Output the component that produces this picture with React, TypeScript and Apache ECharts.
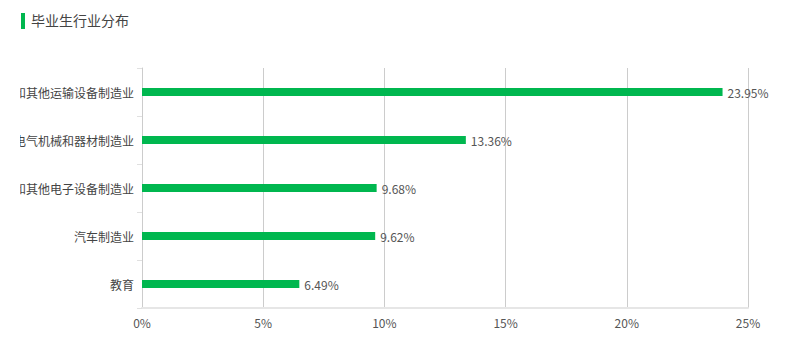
import React, { useEffect, useRef } from "react";
import * as echarts from "echarts";

const categories = [
  "教育",
  "汽车制造业",
  "计算机、通信和其他电子设备制造业",
  "电气机械和器材制造业",
  "铁路、船舶、航空航天和其他运输设备制造业",
];
const values = [6.49, 9.62, 9.68, 13.36, 23.95];
const titleText = "毕业生行业分布";

export default function App() {
  const ref = useRef<HTMLDivElement>(null);
  useEffect(() => {
    document.body.style.margin = "0";
    const chart = echarts.init(ref.current!, undefined, { renderer: "svg" });
    chart.setOption({
      animation: false,
      textStyle: { fontFamily: "'Noto Sans CJK SC', sans-serif" },
      graphic: [
        { type: "rect", left: 1, top: 13, shape: { width: 4, height: 16 }, style: { fill: "#00b74f" } },
        {
          type: "text",
          left: 11,
          top: 13,
          style: { text: titleText, fontSize: 14, fill: "#444", fontFamily: "'Noto Sans CJK SC', sans-serif" },
        },
      ],
      grid: { left: 122, right: 51, top: 68, bottom: 44, containLabel: false, outerBoundsMode: "none" },
      xAxis: {
        type: "value",
        min: 0,
        max: 25,
        interval: 5,
        axisLabel: { formatter: "{value}%", color: "#555", fontSize: 12, margin: 8 },
        axisLine: { show: true, lineStyle: { color: "#e6e6e6", width: 2 } },
        axisTick: { show: false },
        splitLine: { show: true, lineStyle: { color: "#cccccc", width: 1 } },
      },
      yAxis: {
        type: "category",
        data: categories,
        axisLabel: { color: "#444", fontSize: 12, margin: 8 },
        axisLine: { show: true, lineStyle: { color: "#cccccc" } },
        axisTick: { show: true, length: 5, lineStyle: { color: "#e0e0e0" } },
      },
      series: [
        {
          type: "bar",
          data: values,
          barWidth: 8,
          itemStyle: { color: "#00b74f" },
          label: {
            show: true,
            position: "right",
            distance: 5,
            formatter: "{c}%",
            color: "#555",
            fontSize: 12,
          },
        },
      ],
    });
    return () => chart.dispose();
  }, []);
  return <div ref={ref} style={{ width: 779, height: 352, marginLeft: 20, overflow: "hidden" }} />;
}
